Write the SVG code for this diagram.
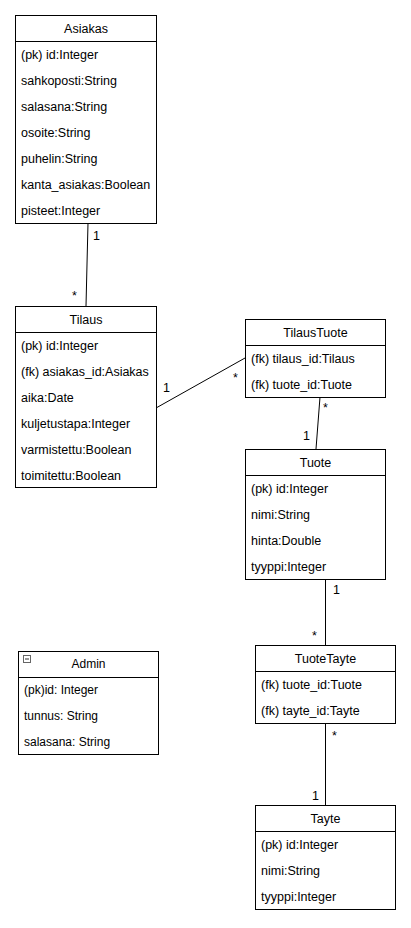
<svg xmlns="http://www.w3.org/2000/svg" width="411" height="928" viewBox="0 0 411 928">
<style>
.box{fill:#fff;stroke:#000;stroke-width:1}
.sep{stroke:#000;stroke-width:1}
text{font-family:"Liberation Sans",Arial,sans-serif;font-size:12.5px;fill:#000}
#Admin text{font-size:12px}
.t{text-anchor:middle}
.conn line{stroke:#000;stroke-width:1}
</style>
<rect width="411" height="928" fill="#fff"/>
<g id="connectors" class="conn">
<line x1="88" y1="223" x2="86" y2="306"/>
<line x1="156" y1="408" x2="245" y2="358"/>
<line x1="320" y1="397" x2="316" y2="449"/>
<line x1="325.5" y1="579" x2="325.5" y2="645"/>
<line x1="325.5" y1="723" x2="325.5" y2="805"/>
<text x="93" y="240">1</text>
<text x="72" y="300">*</text>
<text x="163" y="392">1</text>
<text x="233" y="382">*</text>
<text x="323" y="412">*</text>
<text x="303" y="440">1</text>
<text x="333" y="594">1</text>
<text x="312" y="640">*</text>
<text x="332" y="740">*</text>
<text x="312" y="800">1</text>
</g>
<g id="Asiakas">
<rect class="box" x="15.5" y="15.5" width="141" height="208"/>
<line class="sep" x1="15.5" y1="41.5" x2="156.5" y2="41.5"/>
<text class="t" x="86" y="32.5">Asiakas</text>
<text x="21" y="58.5">(pk) id:Integer</text>
<text x="21" y="84.5">sahkoposti:String</text>
<text x="21" y="110.5">salasana:String</text>
<text x="21" y="136.5">osoite:String</text>
<text x="21" y="162.5">puhelin:String</text>
<text x="21" y="188.5">kanta_asiakas:Boolean</text>
<text x="21" y="214.5">pisteet:Integer</text>
</g>
<g id="Tilaus">
<rect class="box" x="15.5" y="306.5" width="141" height="181"/>
<line class="sep" x1="15.5" y1="332.5" x2="156.5" y2="332.5"/>
<text class="t" x="86" y="323.5">Tilaus</text>
<text x="21" y="349.5">(pk) id:Integer</text>
<text x="21" y="375.5">(fk) asiakas_id:Asiakas</text>
<text x="21" y="401.5">aika:Date</text>
<text x="21" y="427.5">kuljetustapa:Integer</text>
<text x="21" y="453.5">varmistettu:Boolean</text>
<text x="21" y="479.5">toimitettu:Boolean</text>
</g>
<g id="TilausTuote">
<rect class="box" x="245.5" y="319.5" width="140" height="78"/>
<line class="sep" x1="245.5" y1="345.5" x2="385.5" y2="345.5"/>
<text class="t" x="315.5" y="336.5">TilausTuote</text>
<text x="251" y="362.5">(fk) tilaus_id:Tilaus</text>
<text x="251" y="388.5">(fk) tuote_id:Tuote</text>
</g>
<g id="Tuote">
<rect class="box" x="245.5" y="449.5" width="140" height="130"/>
<line class="sep" x1="245.5" y1="475.5" x2="385.5" y2="475.5"/>
<text class="t" x="315.5" y="466.5">Tuote</text>
<text x="251" y="492.5">(pk) id:Integer</text>
<text x="251" y="518.5">nimi:String</text>
<text x="251" y="544.5">hinta:Double</text>
<text x="251" y="570.5">tyyppi:Integer</text>
</g>
<g id="TuoteTayte">
<rect class="box" x="255.5" y="645.5" width="140" height="78"/>
<line class="sep" x1="255.5" y1="671.5" x2="395.5" y2="671.5"/>
<text class="t" x="325.5" y="662.5">TuoteTayte</text>
<text x="261" y="688.5">(fk) tuote_id:Tuote</text>
<text x="261" y="714.5">(fk) tayte_id:Tayte</text>
</g>
<g id="Tayte">
<rect class="box" x="255.5" y="805.5" width="140" height="104"/>
<line class="sep" x1="255.5" y1="831.5" x2="395.5" y2="831.5"/>
<text class="t" x="325.5" y="822.5">Tayte</text>
<text x="261" y="848.5">(pk) id:Integer</text>
<text x="261" y="874.5">nimi:String</text>
<text x="261" y="900.5">tyyppi:Integer</text>
</g>
<g id="Admin">
<rect class="box" x="18.5" y="651.5" width="140" height="103"/>
<line class="sep" x1="18.5" y1="677.5" x2="158.5" y2="677.5"/>
<rect x="23.5" y="655.5" width="7" height="7" fill="#fff" stroke="#666" stroke-width="1"/>
<line x1="25" y1="659" x2="29" y2="659" stroke="#333" stroke-width="1"/>
<text class="t" x="88.5" y="668">Admin</text>
<text x="24" y="694">(pk)id: Integer</text>
<text x="24" y="720">tunnus: String</text>
<text x="24" y="746">salasana: String</text>
</g>
</svg>
